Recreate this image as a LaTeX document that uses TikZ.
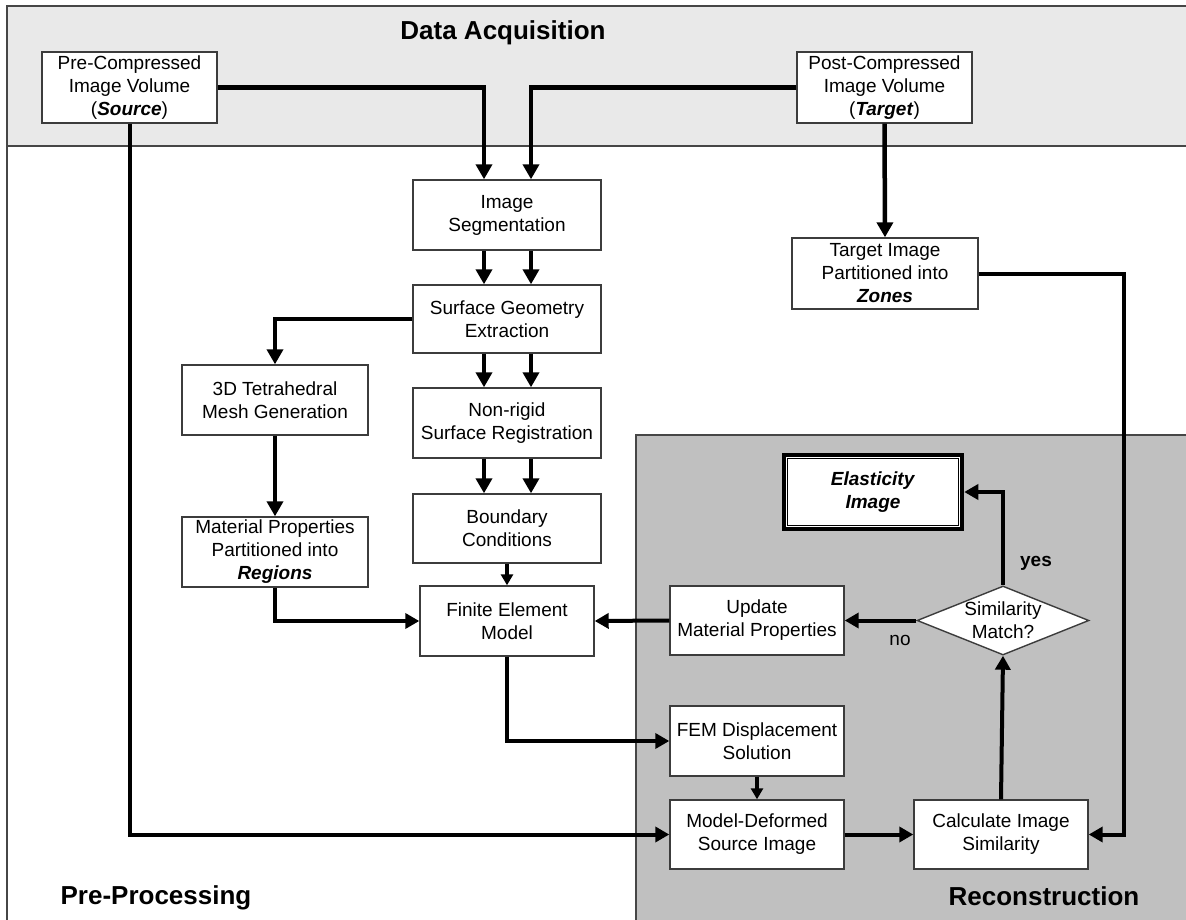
\documentclass[tikz,border=0pt]{standalone}
\usepackage{fontspec}
\setmainfont{Liberation Sans}
\usetikzlibrary{arrows.meta,shapes.geometric}
\definecolor{bandc}{RGB}{233,233,233}
\definecolor{recc}{RGB}{192,192,192}
\definecolor{boxc}{RGB}{60,60,60}
\definecolor{framec}{RGB}{70,70,70}
\begin{document}
\begin{tikzpicture}[x=1pt,y=-1pt,
  box/.style={draw=boxc, line width=1.4pt, fill=white, align=center, inner sep=0pt,
    font=\fontsize{19}{23}\selectfont},
  arr/.style={line width=4.5pt, -{Triangle[length=15pt,width=16pt]}},
  marr/.style={line width=4pt, -{Triangle[length=14pt,width=15pt]}},
  sarr/.style={line width=3.2pt, -{Triangle[length=11pt,width=12pt]}},
  title/.style={font=\bfseries\fontsize{26}{30}\selectfont},
  lab/.style={font=\fontsize{19}{23}\selectfont}]
\useasboundingbox (0,0) rectangle (1186,920);
\clip (0,0) rectangle (1186,920);
% regions
\fill[white] (0,0) rectangle (1186,920);
\draw[framec, line width=1.5pt, fill=bandc] (7,6) rectangle (1200,146);
\draw[framec, line width=1.5pt] (7,146) -- (7,930);
\fill[recc] (636,435) rectangle (1200,935);
\draw[framec, line width=1.5pt] (636,935) -- (636,435) -- (1200,435);
\node[title] (tda) at (503,33) {Data Acquisition};
\node[title] (tpp) at (156,898) {Pre-Processing};
\node[title] (trc) at (1044,896) {Reconstruction};
% boxes
\node[box, minimum width=175pt, minimum height=71pt] (pre) at (129.5,87.5) {Pre-Compressed\\Image Volume\\(\textbf{\textit{Source}})};
\node[box, minimum width=175pt, minimum height=71pt] (post) at (884.5,87.5) {Post-Compressed\\Image Volume\\(\textbf{\textit{Target}})};
\node[box, minimum width=188pt, minimum height=70pt] (seg) at (507,215) {Image\\Segmentation};
\node[box, minimum width=188pt, minimum height=68pt] (surf) at (507,319) {Surface Geometry\\Extraction};
\node[box, minimum width=188pt, minimum height=70pt] (nrr) at (507,423) {Non-rigid\\Surface Registration};
\node[box, minimum width=188pt, minimum height=69pt] (bc) at (507,528.5) {Boundary\\Conditions};
\node[box, minimum width=174pt, minimum height=70pt] (fem) at (507,621) {Finite Element\\Model};
\node[box, minimum width=186pt, minimum height=70pt] (tet) at (275,400) {3D Tetrahedral\\Mesh Generation};
\node[box, minimum width=186pt, minimum height=70pt] (mat) at (275,552) {Material Properties\\Partitioned into\\\textbf{\textit{Regions}}};
\node[box, minimum width=186pt, minimum height=71pt] (tgt) at (885,273.5) {Target Image\\Partitioned into\\\textbf{\textit{Zones}}};
\node[box, minimum width=174pt, minimum height=69pt] (upd) at (757,620.5) {Update\\Material Properties};
\node[box, minimum width=174pt, minimum height=70pt] (fd) at (757,741) {FEM Displacement\\Solution};
\node[box, minimum width=174pt, minimum height=69pt] (md) at (757,834.5) {Model-Deformed\\Source Image};
\node[box, minimum width=174pt, minimum height=69pt] (calc) at (1001,834.5) {Calculate Image\\Similarity};
\node[diamond, draw=boxc, line width=1.4pt, fill=white, inner sep=0pt, aspect=2.49,
  minimum width=172pt, minimum height=69pt] (dm) at (1003,620.5) {};
\node[lab, align=center] (dmt) at (dm.center) {Similarity\\Match?};
\node[box, draw=black, line width=4.5pt, minimum width=178pt, minimum height=74pt] (el) at (873,492) {\textbf{\textit{Elasticity}}\\\textbf{\textit{Image}}};
\draw[black, line width=1.2pt] ([xshift=6pt,yshift=-6pt]el.north west) rectangle ([xshift=-6pt,yshift=6pt]el.south east);
% connectors
\draw[arr] (pre.east) -| ([xshift=-23pt]seg.north);
\draw[arr] (post.west) -| ([xshift=24pt]seg.north);
\draw[arr] ([xshift=-23pt]seg.south) -- ([xshift=-23pt]surf.north);
\draw[arr] ([xshift=24pt]seg.south) -- ([xshift=24pt]surf.north);
\draw[arr] ([xshift=-23pt]surf.south) -- ([xshift=-23pt]nrr.north);
\draw[arr] ([xshift=24pt]surf.south) -- ([xshift=24pt]nrr.north);
\draw[arr] ([xshift=-23pt]nrr.south) -- ([xshift=-23pt]bc.north);
\draw[arr] ([xshift=24pt]nrr.south) -- ([xshift=24pt]bc.north);
\draw[arr] (surf.west) -| (tet.north);
\draw[arr] (tet.south) -- (mat.north);
\draw[marr] (mat.south) |- (fem.west);
\draw[sarr] (bc.south) -- (fem.north);
\draw[marr] (upd.west) -- (fem.east);
\draw[marr] (dm.west) -- (upd.east);
\draw[marr] (dm.north) |- (el.east);
\draw[marr] (calc.north) -- (dm.south);
\draw[marr] (md.east) -- (calc.west);
\draw[sarr] (fd.south) -- (md.north);
\draw[marr] (fem.south) |- (fd.west);
\draw[marr] (pre.south) |- (md.west);
\draw[arr] (post.south) -- (tgt.north);
\coordinate (rt) at (1124,0);
\draw[marr] (tgt.east) -| (rt |- calc.east) -- (calc.east);
% labels
\node[lab, font=\bfseries\fontsize{19}{23}\selectfont] (yes) at (1036,563) {yes};
\node[lab] (no) at (900,640) {no};
\end{tikzpicture}
\end{document}
